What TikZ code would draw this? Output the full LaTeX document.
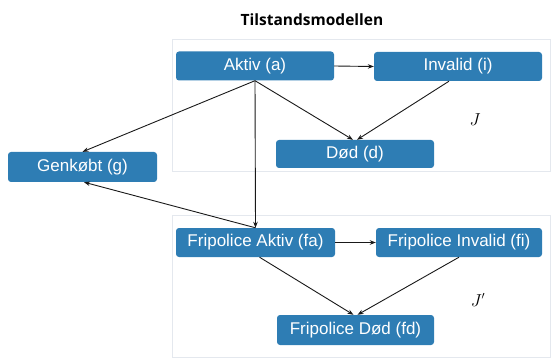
\documentclass[tikz,border=0pt]{standalone}
\usepackage{fontspec}
\setmainfont{Liberation Sans}
\newfontfamily\titlefont{Open Sans}
\usetikzlibrary{arrows.meta}
\definecolor{boxblue}{RGB}{46,125,180}
\definecolor{framegray}{RGB}{228,232,238}
\tikzset{
  state/.style={draw=none, fill=boxblue, rounded corners=3pt, text=white,
    font=\fontsize{17}{20}\selectfont, inner sep=0pt, minimum height=29pt},
  frame/.style={draw=framegray, line width=1pt},
  conn/.style={draw=black!90, line width=0.9pt, -{Stealth[length=6pt,width=4.5pt]}},
  jlabel/.style={font=\fontsize{16}{18}\selectfont}
}
\begin{document}
\begin{tikzpicture}[x=1pt,y=-1pt]
\useasboundingbox (0,0) rectangle (559,358);
\node[font=\titlefont\bfseries\fontsize{15.5}{18}\selectfont] (title) at (312,20) {Tilstandsmodellen};
\draw[frame] (172,40) rectangle (550,172);
\draw[frame] (172,215) rectangle (550,357);
\node[state, minimum width=158pt] (a) at (255,66) {Aktiv (a)};
\node[state, minimum width=168pt] (i) at (458,66.5) {Invalid (i)};
\node[state, minimum width=158pt, minimum height=28pt] (d) at (355,154) {Død (d)};
\node[state, minimum width=149pt, minimum height=30pt] (g) at (82.5,167) {Genkøbt (g)};
\node[state, minimum width=159pt] (fa) at (255.5,242.5) {Fripolice Aktiv (fa)};
\node[state, minimum width=166pt] (fi) at (459,242.5) {Fripolice Invalid (fi)};
\node[state, minimum width=157pt, minimum height=30pt] (fd) at (355.5,330) {Fripolice Død (fd)};
\node[jlabel] (J) at (475,120) {$J$};
\node[jlabel] (Jp) at (478,300) {$J'$};
\draw[conn] (a.east) -- (i.west);
\draw[conn] (a.south) -- (g.north);
\draw[conn] (a.south) -- ([xshift=-2pt]d.north);
\draw[conn] ([xshift=-9pt]i.south) -- ([xshift=2pt]d.north);
\draw[conn] (a.south) -- (fa.north);
\draw[conn] (fa.north) -- ([xshift=1.5pt]g.south);
\draw[conn] (fa.east) -- (fi.west);
\draw[conn] ([xshift=4pt]fa.south) -- ([xshift=-2pt]fd.north);
\draw[conn] (fi.south) -- ([xshift=2pt]fd.north);
\end{tikzpicture}
\end{document}
